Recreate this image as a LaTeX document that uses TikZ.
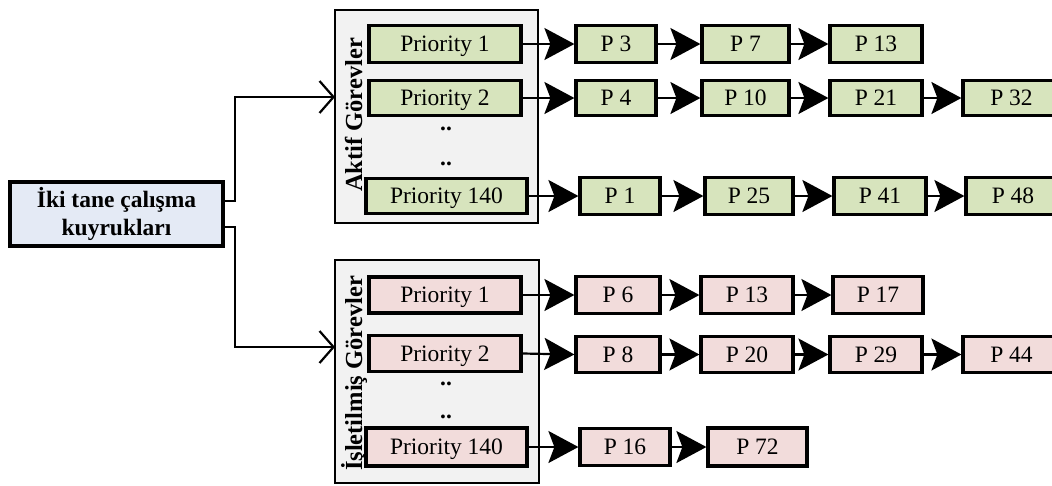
\documentclass[tikz,border=0pt]{standalone}
\usepackage{fontspec}
\setmainfont{Liberation Serif}
\usetikzlibrary{arrows.meta}

\definecolor{actfill}{RGB}{215,228,189}
\definecolor{expfill}{RGB}{242,220,219}
\definecolor{srcfill}{RGB}{228,234,245}
\definecolor{grpfill}{RGB}{242,242,242}

\newcommand\bodysize{\fontsize{23.5}{28}\selectfont}
\newcommand\titlesize{\fontsize{24.5}{28}\selectfont\bfseries}

\tikzset{
  cell/.style={draw=black, line width=3.2pt, inner sep=0pt, font=\bodysize, text depth=0pt},
  actcell/.style={cell, fill=actfill},
  expcell/.style={cell, fill=expfill},
  group/.style={draw=black, line width=2.4pt, fill=grpfill, inner sep=0pt},
  link/.style={line width=2.2pt, -{Stealth[length=30pt, width=32pt, inset=6pt]}},
  feed/.style={line width=2.2pt, -{Straight Barb[length=14pt, width=32pt, line width=2.2pt]}},
  dotsrow/.style={anchor=base, font=\bodysize\bfseries, inner sep=0pt},
  grouptitle/.style={rotate=90, anchor=base, font=\titlesize, inner sep=0pt},
}

\begin{document}
\begin{tikzpicture}[x=1pt, y=-1pt]
  \useasboundingbox (0,0) rectangle (1052,485);
  \clip (0,0) rectangle (1052,485);
  \fill[white] (0,0) rectangle (1052,485);

  % source box
  \node[cell, fill=srcfill, line width=3.4pt, minimum width=213pt, minimum height=64pt,
        text depth=, align=center, font=\fontsize{23.5}{28}\selectfont\bfseries] (src) at (116.5,214)
        {İki tane çalışma\\kuyrukları};

  % the two queue groups
  \node[group, minimum width=203pt, minimum height=213pt] (gA) at (436.5,116.5) {};
  \node[group, minimum width=204pt, minimum height=223pt] (gB) at (437,371.5) {};
  \node[grouptitle] (tA) at (362,115) {Aktif Görevler};
  \node[grouptitle] (tB) at (362,373.5) {İşletilmiş Görevler};

  \coordinate (inA) at (335,97);
  \coordinate (inB) at (335,347);
  \draw[feed] ([yshift=13pt]src.east) -- ++(10,0) |- (inA);
  \draw[feed] ([yshift=-13pt]src.east) -- ++(10,0) |- (inB);

  % active priority lists
  \node[actcell, minimum width=152pt, minimum height=37pt] (pa1) at (445,44) {Priority 1};
  \node[actcell, minimum width=152pt, minimum height=35pt] (pa2) at (445,98) {Priority 2};
  \node[actcell, minimum width=161pt, minimum height=35pt] (pa140) at (446.5,196) {Priority 140};
  \node[dotsrow] (da1) at (446,130) {..};
  \node[dotsrow] (da2) at (446,165) {..};

  \node[actcell, minimum width=80pt, minimum height=37pt] (a3) at (616,44) {P 3};
  \node[actcell, minimum width=87pt, minimum height=37pt] (a7) at (745.5,44) {P 7};
  \node[actcell, minimum width=92pt, minimum height=37pt] (a13) at (876,44) {P 13};

  \node[actcell, minimum width=80pt, minimum height=35pt] (a4) at (616,98) {P 4};
  \node[actcell, minimum width=87pt, minimum height=35pt] (a10) at (745.5,98) {P 10};
  \node[actcell, minimum width=92pt, minimum height=35pt] (a21) at (876,98) {P 21};
  \node[actcell, minimum width=97pt, minimum height=35pt] (a32) at (1011.5,98) {P 32};

  \node[actcell, minimum width=80pt, minimum height=37pt] (a1) at (620,196) {P 1};
  \node[actcell, minimum width=88pt, minimum height=37pt] (a25) at (749,196) {P 25};
  \node[actcell, minimum width=92pt, minimum height=37pt] (a41) at (880,196) {P 41};
  \node[actcell, minimum width=94pt, minimum height=37pt] (a48) at (1013,196) {P 48};

  \draw[link] (pa1.east) -- (a3.west);
  \draw[link] (a3.east) -- (a7.west);
  \draw[link] (a7.east) -- (a13.west);
  \draw[link] (pa2.east) -- (a4.west);
  \draw[link] (a4.east) -- (a10.west);
  \draw[link] (a10.east) -- (a21.west);
  \draw[link] (a21.east) -- (a32.west);
  \draw[link] (pa140.east) -- (a1.west);
  \draw[link] (a1.east) -- (a25.west);
  \draw[link] (a25.east) -- (a41.west);
  \draw[link] (a41.east) -- (a48.west);

  % expired priority lists
  \node[expcell, minimum width=152pt, minimum height=36pt] (pb1) at (445,295) {Priority 1};
  \node[expcell, minimum width=152pt, minimum height=36pt] (pb2) at (445,353.5) {Priority 2};
  \node[expcell, minimum width=161pt, minimum height=38pt] (pb140) at (446.5,447) {Priority 140};
  \node[dotsrow] (db1) at (446,385) {..};
  \node[dotsrow] (db2) at (446,418) {..};

  \node[expcell, minimum width=84pt, minimum height=37pt] (b6) at (618,295) {P 6};
  \node[expcell, minimum width=92pt, minimum height=37pt] (b13) at (747,295) {P 13};
  \node[expcell, minimum width=90pt, minimum height=37pt] (b17) at (878,295) {P 17};

  \node[expcell, minimum width=84pt, minimum height=36pt] (b8) at (618,354.5) {P 8};
  \node[expcell, minimum width=92pt, minimum height=36pt] (b20) at (747,354.5) {P 20};
  \node[expcell, minimum width=92pt, minimum height=36pt] (b29) at (876,354.5) {P 29};
  \node[expcell, minimum width=97pt, minimum height=36pt] (b44) at (1011.5,354.5) {P 44};

  \node[expcell, minimum width=90pt, minimum height=37pt] (b16) at (625,447) {P 16};
  \node[expcell, minimum width=99pt, minimum height=38pt] (b72) at (757.5,447) {P 72};

  \draw[link] (pb1.east) -- (b6.west);
  \draw[link] (b6.east) -- (b13.west);
  \draw[link] (b13.east) -- (b17.west);
  \draw[link] (pb2.east) -- (b8.west);
  \draw[link] (b8.east) -- (b20.west);
  \draw[link] (b20.east) -- (b29.west);
  \draw[link] (b29.east) -- (b44.west);
  \draw[link] (pb140.east) -- (b16.west);
  \draw[link] (b16.east) -- (b72.west);
\end{tikzpicture}
\end{document}
